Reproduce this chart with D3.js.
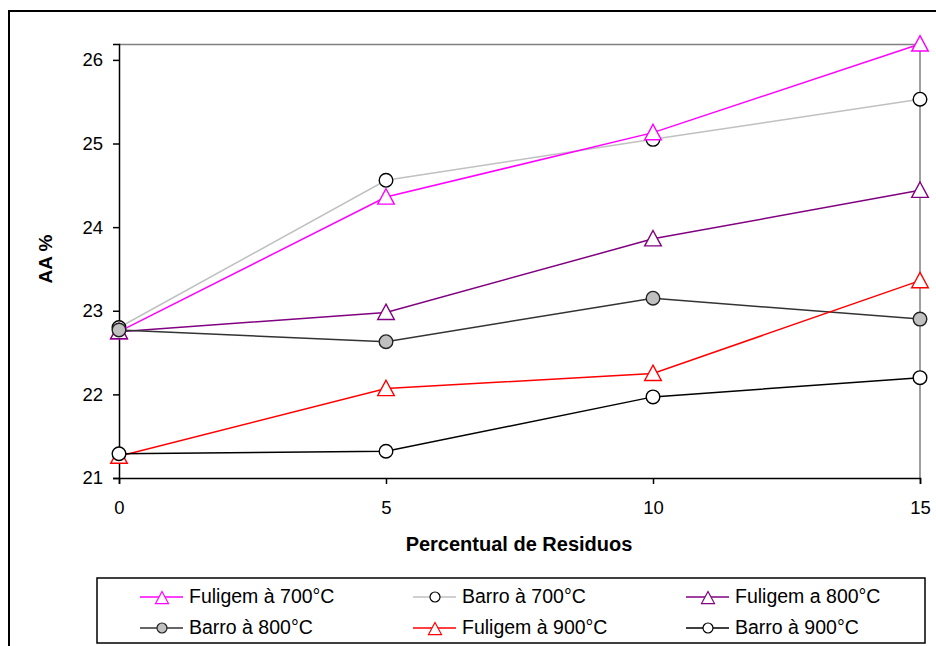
<!DOCTYPE html>
<html>
<head>
<meta charset="utf-8">
<script src="https://cdn.jsdelivr.net/npm/d3@7"></script>
<style>
body { margin: 0; background: #fff; }
svg { display: block; font-family: "Liberation Sans", Arial, sans-serif; }
</style>
</head>
<body>
<div id="dataviz"></div>
<script>
// data
var residuos = [0, 5, 10, 15];
var xTicks = [0, 5, 10, 15];
var yTicks = [21, 22, 23, 24, 25, 26];

var fuligem700 = [22.75, 24.36, 25.13, 26.19];
var barro700 = [22.80, 24.56, 25.05, 25.53];
var fuligem800 = [22.75, 22.98, 23.86, 24.44];
var barro800 = [22.77, 22.63, 23.15, 22.90];
var fuligem900 = [21.26, 22.07, 22.25, 23.36];
var barro900 = [21.29, 21.32, 21.97, 22.20];

var seriesNames = ["Fuligem à 700°C", "Barro à 700°C", "Fuligem a 800°C",
                   "Barro à 800°C", "Fuligem à 900°C", "Barro à 900°C"];

var series = [
    { name: seriesNames[0], values: fuligem700, line: "#ff00ff", marker: "tri", stroke: "#ff00ff", fill: "#fff" },
    { name: seriesNames[1], values: barro700, line: "#c0c0c0", marker: "circle", stroke: "#000", fill: "#fff" },
    { name: seriesNames[2], values: fuligem800, line: "#800080", marker: "tri", stroke: "#800080", fill: "#fff" },
    { name: seriesNames[3], values: barro800, line: "#333333", marker: "circle", stroke: "#222", fill: "#c0c0c0" },
    { name: seriesNames[4], values: fuligem900, line: "#ff0000", marker: "tri", stroke: "#ff0000", fill: "#fff" },
    { name: seriesNames[5], values: barro900, line: "#000000", marker: "circle", stroke: "#000", fill: "#fff" }
];
// draw order: back to front
var drawOrder = [1, 0, 2, 3, 4, 5];

var W = 936, H = 646;
var margin = { top: 44, right: 16, bottom: 168, left: 119 },
    width = W - margin.left - margin.right,
    height = H - margin.top - margin.bottom;

var svg = d3.select("#dataviz").append("svg")
    .attr("width", W)
    .attr("height", H);

// outer chart frame
svg.append("rect")
    .attr("x", 9).attr("y", 11)
    .attr("width", 960).attr("height", 700)
    .attr("fill", "none").attr("stroke", "#000").attr("stroke-width", 2);

var g = svg.append("g")
    .attr("transform", "translate(" + margin.left + "," + margin.top + ")");

var xScale = d3.scaleLinear().domain([0, 15]).range([0, 801]);
var yScale = d3.scaleLinear().domain([21, 26.19]).range([434, 0]);

// top & right plot border (grey)
g.append("path")
    .attr("d", "M0,0.5H" + xScale(15) + "V" + yScale(21))
    .attr("fill", "none").attr("stroke", "#808080").attr("stroke-width", 1.5);

var xAxis = d3.axisBottom(xScale).tickValues(xTicks).tickFormat(d3.format("d")).tickSize(6).tickPadding(17);
var yAxis = d3.axisLeft(yScale).tickValues(yTicks).tickFormat(d3.format("d")).tickSize(6).tickPadding(10);

var gx = g.append("g")
    .attr("transform", "translate(0," + yScale(21) + ")")
    .call(xAxis);
var gy = g.append("g").call(yAxis);

[gx, gy].forEach(function (a) {
    a.attr("font-size", 18.5).attr("font-family", "'Liberation Sans', Arial, sans-serif");
    a.selectAll("path").attr("stroke", "#000").attr("stroke-width", 1.5);
    a.selectAll("line").attr("stroke", "#000").attr("stroke-width", 1.5);
    a.selectAll("text").attr("fill", "#000");
});

// axis titles
svg.append("text")
    .attr("x", 519)
    .attr("y", 551)
    .attr("text-anchor", "middle")
    .attr("font-size", "20px")
    .attr("font-weight", "bold")
    .text("Percentual de Residuos");

svg.append("text")
    .attr("transform", "rotate(-90)")
    .attr("x", -259)
    .attr("y", 52)
    .attr("text-anchor", "middle")
    .attr("font-size", "19px")
    .attr("font-weight", "bold")
    .text("AA %");

function triPath(x, y, r) {
    return "M" + x + "," + (y - r) + "L" + (x + r) + "," + (y + r * 0.85) +
        "L" + (x - r) + "," + (y + r * 0.85) + "Z";
}

function drawMarker(sel, s, x, y) {
    if (s.marker == "tri") {
        sel.append("path")
            .attr("d", triPath(x, y, 8.3))
            .attr("fill", s.fill).attr("stroke", s.stroke).attr("stroke-width", 1.4);
    } else {
        sel.append("circle")
            .attr("cx", x).attr("cy", y).attr("r", 6.8)
            .attr("fill", s.fill).attr("stroke", s.stroke).attr("stroke-width", 1.4);
    }
}

var line = d3.line()
    .x(function (d, i) { return xScale(residuos[i]); })
    .y(function (d) { return yScale(d); });

drawOrder.forEach(function (k) {
    var s = series[k];
    g.append("path")
        .datum(s.values)
        .attr("d", line)
        .attr("fill", "none")
        .attr("stroke", s.line)
        .attr("stroke-width", 1.5);
    s.values.forEach(function (v, i) {
        drawMarker(g, s, xScale(residuos[i]), yScale(v));
    });
});

// legend
var legend = svg.append("g");
legend.append("rect")
    .attr("x", 97).attr("y", 578)
    .attr("width", 828).attr("height", 65)
    .attr("fill", "#fff").attr("stroke", "#000").attr("stroke-width", 1.5);

var colX = [140, 413, 686];
var rowY = [597, 628];
series.forEach(function (s, i) {
    var cx = colX[i % 3], cy = rowY[Math.floor(i / 3)];
    legend.append("line")
        .attr("x1", cx).attr("x2", cx + 43)
        .attr("y1", cy).attr("y2", cy)
        .attr("stroke", s.line).attr("stroke-width", 1.5);
    if (s.marker == "circle") {
        legend.append("circle")
            .attr("cx", cx + 22).attr("cy", cy).attr("r", 5)
            .attr("fill", s.fill).attr("stroke", s.stroke).attr("stroke-width", 1.2);
    } else {
        legend.append("path")
            .attr("d", triPath(cx + 22, cy + 1, 6.5))
            .attr("fill", s.fill).attr("stroke", s.stroke).attr("stroke-width", 1.2);
    }
    legend.append("text")
        .attr("x", cx + 49).attr("y", cy + 6)
        .attr("font-size", "19.5px")
        .attr("fill", "#000")
        .text(s.name);
});
</script>
</body>
</html>
